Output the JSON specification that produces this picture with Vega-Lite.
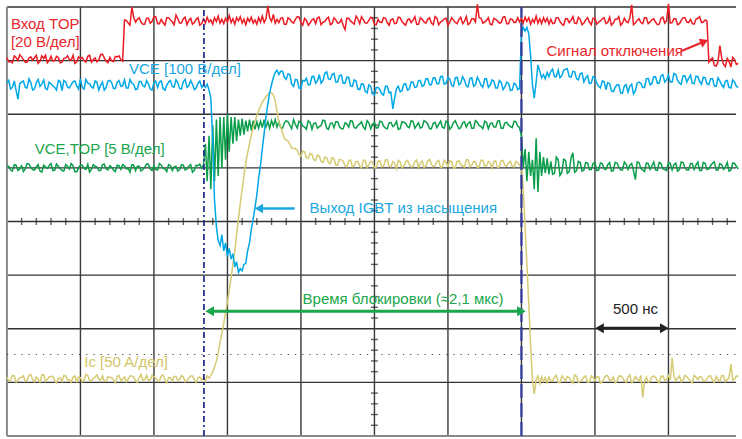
{
"$schema":"https://vega.github.io/schema/vega-lite/v6.json",
"width":742,"height":439,
"autosize":{"type":"fit","contains":"padding"},
"padding":0,
"background":"white",
"config":{"view":{"stroke":null},"font":"Liberation Sans"},
"datasets":{
"scope":[
{"t":0,"in":7.06,"vce":6.58,"top":5.03,"ic":1.10},
{"t":25,"in":6.98,"vce":6.47,"top":4.96,"ic":1.03},
{"t":50,"in":7.09,"vce":6.62,"top":5.06,"ic":1.12},
{"t":75,"in":7.00,"vce":6.28,"top":4.95,"ic":1.04},
{"t":100,"in":7.07,"vce":6.60,"top":5.04,"ic":1.09},
{"t":125,"in":6.97,"vce":6.50,"top":4.98,"ic":1.02},
{"t":150,"in":7.05,"vce":6.66,"top":5.07,"ic":1.13},
{"t":175,"in":7.01,"vce":6.45,"top":4.97,"ic":1.05},
{"t":200,"in":7.10,"vce":6.59,"top":5.02,"ic":1.10},
{"t":225,"in":6.99,"vce":6.52,"top":4.94,"ic":1.00},
{"t":250,"in":7.04,"vce":6.64,"top":5.05,"ic":1.14},
{"t":275,"in":6.96,"vce":6.46,"top":4.99,"ic":1.06},
{"t":300,"in":7.08,"vce":6.57,"top":5.08,"ic":1.11},
{"t":325,"in":7.00,"vce":6.50,"top":4.96,"ic":1.03},
{"t":350,"in":7.06,"vce":6.63,"top":5.03,"ic":1.08},
{"t":375,"in":6.97,"vce":6.44,"top":4.95,"ic":1.02},
{"t":400,"in":7.05,"vce":6.60,"top":5.06,"ic":1.12},
{"t":425,"in":7.02,"vce":6.49,"top":4.98,"ic":1.05},
{"t":450,"in":7.10,"vce":6.61,"top":5.04,"ic":1.10},
{"t":475,"in":6.98,"vce":6.53,"top":4.93,"ic":1.01},
{"t":500,"in":7.04,"vce":6.66,"top":5.05,"ic":1.09},
{"t":525,"in":7.00,"vce":6.47,"top":4.99,"ic":1.04},
{"t":550,"in":7.08,"vce":6.58,"top":5.07,"ic":1.13},
{"t":575,"in":6.97,"vce":6.51,"top":4.97,"ic":1.03},
{"t":600,"in":7.05,"vce":6.62,"top":5.03,"ic":1.10},
{"t":625,"in":7.01,"vce":6.45,"top":4.95,"ic":1.06},
{"t":650,"in":7.12,"vce":6.60,"top":5.06,"ic":1.12},
{"t":675,"in":6.99,"vce":6.50,"top":4.98,"ic":1.02},
{"t":700,"in":7.06,"vce":6.63,"top":5.04,"ic":1.09},
{"t":725,"in":6.98,"vce":6.48,"top":4.96,"ic":1.05},
{"t":750,"in":7.07,"vce":6.60,"top":5.05,"ic":1.11},
{"t":775,"in":7.02,"vce":6.52,"top":4.97,"ic":1.03},
{"t":800,"in":7.76,"vce":6.64,"top":5.04,"ic":1.10},
{"t":825,"in":7.70,"vce":6.49,"top":4.99,"ic":1.06},
{"t":850,"in":8.00,"vce":6.58,"top":5.06,"ic":1.12},
{"t":875,"in":7.72,"vce":6.46,"top":4.95,"ic":1.03},
{"t":900,"in":7.80,"vce":6.61,"top":5.03,"ic":1.09},
{"t":925,"in":7.68,"vce":6.53,"top":4.97,"ic":1.04},
{"t":950,"in":7.79,"vce":6.63,"top":5.07,"ic":1.13},
{"t":975,"in":7.70,"vce":6.47,"top":4.98,"ic":1.05},
{"t":1000,"in":7.82,"vce":6.59,"top":5.04,"ic":1.10},
{"t":1025,"in":7.69,"vce":6.50,"top":4.96,"ic":1.02},
{"t":1050,"in":7.77,"vce":6.62,"top":5.05,"ic":1.12},
{"t":1075,"in":7.66,"vce":6.45,"top":4.98,"ic":1.04},
{"t":1100,"in":7.80,"vce":6.60,"top":5.06,"ic":1.09},
{"t":1125,"in":7.72,"vce":6.52,"top":4.95,"ic":1.03},
{"t":1150,"in":7.85,"vce":6.64,"top":5.03,"ic":1.11},
{"t":1175,"in":7.70,"vce":6.48,"top":4.97,"ic":1.05},
{"t":1200,"in":7.78,"vce":6.61,"top":5.05,"ic":1.10},
{"t":1225,"in":7.67,"vce":6.50,"top":4.98,"ic":1.03},
{"t":1250,"in":7.79,"vce":6.63,"top":5.06,"ic":1.12},
{"t":1275,"in":7.71,"vce":6.46,"top":4.96,"ic":1.05},
{"t":1300,"in":7.80,"vce":6.58,"top":5.04,"ic":1.09},
{"t":1325,"in":7.69,"vce":6.50,"top":4.99,"ic":1.04},
{"t":1337,"in":7.78,"vce":6.55,"top":5.05,"ic":1.10},
{"t":1350,"in":7.70,"vce":6.50,"top":5.45,"ic":1.02},
{"t":1362,"in":7.81,"vce":6.56,"top":4.75,"ic":1.12},
{"t":1375,"in":7.72,"vce":6.45,"top":5.60,"ic":1.08},
{"t":1387,"in":7.76,"vce":6.30,"top":4.60,"ic":1.13},
{"t":1400,"in":7.68,"vce":5.50,"top":5.80,"ic":1.20},
{"t":1412,"in":7.80,"vce":4.40,"top":4.75,"ic":1.28},
{"t":1425,"in":7.73,"vce":3.90,"top":5.90,"ic":1.40},
{"t":1437,"in":7.83,"vce":3.65,"top":4.85,"ic":1.55},
{"t":1450,"in":7.70,"vce":3.55,"top":5.95,"ic":1.75},
{"t":1462,"in":7.77,"vce":3.75,"top":5.00,"ic":1.92},
{"t":1475,"in":7.69,"vce":3.45,"top":5.95,"ic":2.10},
{"t":1487,"in":7.79,"vce":3.60,"top":5.15,"ic":2.30},
{"t":1500,"in":7.72,"vce":3.35,"top":6.00,"ic":2.50},
{"t":1512,"in":7.84,"vce":3.50,"top":5.30,"ic":2.72},
{"t":1525,"in":7.71,"vce":3.30,"top":5.95,"ic":2.95},
{"t":1537,"in":7.78,"vce":3.40,"top":5.45,"ic":3.20},
{"t":1550,"in":7.68,"vce":3.15,"top":5.95,"ic":3.45},
{"t":1562,"in":7.80,"vce":3.25,"top":5.50,"ic":3.75},
{"t":1575,"in":7.74,"vce":3.05,"top":5.90,"ic":4.05},
{"t":1587,"in":7.82,"vce":3.12,"top":5.60,"ic":4.33},
{"t":1600,"in":7.70,"vce":3.08,"top":5.92,"ic":4.60},
{"t":1612,"in":7.77,"vce":3.20,"top":5.62,"ic":4.85},
{"t":1625,"in":7.67,"vce":3.22,"top":5.88,"ic":5.10},
{"t":1637,"in":7.79,"vce":3.45,"top":5.68,"ic":5.28},
{"t":1650,"in":7.73,"vce":3.60,"top":5.90,"ic":5.45},
{"t":1662,"in":7.81,"vce":3.85,"top":5.70,"ic":5.60},
{"t":1675,"in":7.70,"vce":4.05,"top":5.88,"ic":5.75},
{"t":1687,"in":7.76,"vce":4.25,"top":5.72,"ic":5.87},
{"t":1700,"in":7.68,"vce":4.50,"top":5.86,"ic":5.97},
{"t":1712,"in":7.80,"vce":4.80,"top":5.74,"ic":6.07},
{"t":1725,"in":7.72,"vce":5.05,"top":5.87,"ic":6.15},
{"t":1737,"in":7.83,"vce":5.35,"top":5.75,"ic":6.22},
{"t":1750,"in":7.71,"vce":5.65,"top":5.90,"ic":6.28},
{"t":1762,"in":7.78,"vce":5.95,"top":5.76,"ic":6.33},
{"t":1775,"in":8.02,"vce":6.20,"top":5.86,"ic":6.37},
{"t":1787,"in":7.80,"vce":6.40,"top":5.74,"ic":6.40},
{"t":1800,"in":7.73,"vce":6.55,"top":5.88,"ic":6.40},
{"t":1812,"in":7.86,"vce":6.68,"top":5.78,"ic":6.36},
{"t":1825,"in":7.70,"vce":6.78,"top":5.90,"ic":6.25},
{"t":1837,"in":7.77,"vce":6.82,"top":5.76,"ic":6.05},
{"t":1850,"in":7.71,"vce":6.74,"top":5.86,"ic":5.85},
{"t":1875,"in":7.80,"vce":6.80,"top":5.74,"ic":5.65},
{"t":1900,"in":7.68,"vce":6.65,"top":5.88,"ic":5.52},
{"t":1925,"in":7.77,"vce":6.74,"top":5.79,"ic":5.44},
{"t":1950,"in":7.70,"vce":6.52,"top":5.90,"ic":5.36},
{"t":1975,"in":7.82,"vce":6.64,"top":5.74,"ic":5.33},
{"t":2000,"in":7.71,"vce":6.48,"top":5.85,"ic":5.22},
{"t":2025,"in":7.79,"vce":6.62,"top":5.76,"ic":5.30},
{"t":2050,"in":7.66,"vce":6.55,"top":5.88,"ic":5.18},
{"t":2075,"in":7.76,"vce":6.70,"top":5.72,"ic":5.25},
{"t":2100,"in":7.69,"vce":6.58,"top":5.84,"ic":5.14},
{"t":2125,"in":7.81,"vce":6.74,"top":5.77,"ic":5.22},
{"t":2150,"in":7.72,"vce":6.63,"top":5.89,"ic":5.10},
{"t":2175,"in":7.78,"vce":6.79,"top":5.74,"ic":5.19},
{"t":2200,"in":7.67,"vce":6.65,"top":5.83,"ic":5.08},
{"t":2225,"in":7.80,"vce":6.76,"top":5.75,"ic":5.17},
{"t":2250,"in":7.70,"vce":6.60,"top":5.86,"ic":5.05},
{"t":2275,"in":7.77,"vce":6.73,"top":5.73,"ic":5.15},
{"t":2300,"in":7.58,"vce":6.58,"top":5.84,"ic":5.04},
{"t":2325,"in":7.79,"vce":6.69,"top":5.76,"ic":5.13},
{"t":2350,"in":7.71,"vce":6.52,"top":5.87,"ic":5.02},
{"t":2375,"in":7.83,"vce":6.62,"top":5.74,"ic":5.12},
{"t":2400,"in":7.69,"vce":6.46,"top":5.82,"ic":5.03},
{"t":2425,"in":7.76,"vce":6.56,"top":5.76,"ic":5.14},
{"t":2450,"in":7.70,"vce":6.40,"top":5.88,"ic":5.01},
{"t":2475,"in":7.81,"vce":6.52,"top":5.73,"ic":5.12},
{"t":2500,"in":7.68,"vce":6.36,"top":5.85,"ic":5.00},
{"t":2525,"in":7.77,"vce":6.50,"top":5.75,"ic":5.13},
{"t":2550,"in":7.71,"vce":6.38,"top":5.86,"ic":5.02},
{"t":2575,"in":7.79,"vce":6.52,"top":5.74,"ic":5.15},
{"t":2600,"in":7.66,"vce":6.40,"top":5.84,"ic":5.03},
{"t":2625,"in":7.78,"vce":6.10,"top":5.77,"ic":5.12},
{"t":2650,"in":7.70,"vce":6.48,"top":5.87,"ic":4.98},
{"t":2675,"in":7.80,"vce":6.42,"top":5.73,"ic":5.11},
{"t":2700,"in":7.69,"vce":6.56,"top":5.85,"ic":5.04},
{"t":2725,"in":7.76,"vce":6.45,"top":5.77,"ic":5.14},
{"t":2750,"in":7.71,"vce":6.60,"top":5.88,"ic":5.02},
{"t":2775,"in":7.82,"vce":6.50,"top":5.74,"ic":5.12},
{"t":2800,"in":7.68,"vce":6.63,"top":5.84,"ic":5.00},
{"t":2825,"in":7.77,"vce":6.52,"top":5.76,"ic":5.13},
{"t":2850,"in":7.70,"vce":6.66,"top":5.86,"ic":5.03},
{"t":2875,"in":7.80,"vce":6.55,"top":5.73,"ic":5.16},
{"t":2900,"in":7.67,"vce":6.68,"top":5.83,"ic":5.02},
{"t":2925,"in":7.79,"vce":6.57,"top":5.75,"ic":5.12},
{"t":2950,"in":7.72,"vce":6.70,"top":5.87,"ic":5.01},
{"t":2975,"in":7.78,"vce":6.56,"top":5.74,"ic":5.14},
{"t":3000,"in":7.66,"vce":6.69,"top":5.85,"ic":5.03},
{"t":3025,"in":7.80,"vce":6.54,"top":5.76,"ic":5.12},
{"t":3050,"in":7.71,"vce":6.68,"top":5.88,"ic":5.00},
{"t":3075,"in":7.77,"vce":6.55,"top":5.73,"ic":5.13},
{"t":3100,"in":7.69,"vce":6.70,"top":5.84,"ic":5.04},
{"t":3125,"in":7.82,"vce":6.53,"top":5.76,"ic":5.15},
{"t":3150,"in":7.70,"vce":6.67,"top":5.86,"ic":5.02},
{"t":3175,"in":7.78,"vce":6.52,"top":5.74,"ic":5.12},
{"t":3200,"in":8.05,"vce":6.69,"top":5.85,"ic":5.01},
{"t":3225,"in":7.79,"vce":6.54,"top":5.77,"ic":5.14},
{"t":3250,"in":7.72,"vce":6.66,"top":5.87,"ic":5.03},
{"t":3275,"in":7.80,"vce":6.50,"top":5.73,"ic":5.12},
{"t":3300,"in":7.67,"vce":6.64,"top":5.84,"ic":5.00},
{"t":3325,"in":7.77,"vce":6.49,"top":5.76,"ic":5.13},
{"t":3350,"in":7.70,"vce":6.63,"top":5.88,"ic":5.02},
{"t":3375,"in":7.81,"vce":6.46,"top":5.74,"ic":5.14},
{"t":3400,"in":7.69,"vce":6.60,"top":5.85,"ic":5.03},
{"t":3425,"in":7.78,"vce":6.44,"top":5.77,"ic":5.12},
{"t":3450,"in":7.71,"vce":6.58,"top":5.87,"ic":5.02},
{"t":3475,"in":7.80,"vce":6.46,"top":5.78,"ic":5.10},
{"t":3487,"in":7.72,"vce":6.48,"top":5.75,"ic":5.05},
{"t":3500,"in":7.79,"vce":7.50,"top":5.60,"ic":5.08},
{"t":3512,"in":7.70,"vce":7.62,"top":5.00,"ic":4.60},
{"t":3525,"in":7.81,"vce":7.55,"top":5.35,"ic":3.90},
{"t":3537,"in":7.73,"vce":7.62,"top":4.75,"ic":3.20},
{"t":3550,"in":7.80,"vce":7.50,"top":5.30,"ic":2.45},
{"t":3562,"in":7.68,"vce":7.10,"top":4.85,"ic":1.70},
{"t":3575,"in":7.77,"vce":6.55,"top":5.15,"ic":1.05},
{"t":3587,"in":7.71,"vce":6.30,"top":4.60,"ic":0.78},
{"t":3600,"in":7.83,"vce":6.60,"top":5.55,"ic":1.05},
{"t":3612,"in":7.70,"vce":6.92,"top":4.55,"ic":1.12},
{"t":3625,"in":7.78,"vce":6.80,"top":5.30,"ic":0.98},
{"t":3637,"in":7.69,"vce":6.68,"top":4.85,"ic":1.10},
{"t":3650,"in":7.80,"vce":6.74,"top":5.20,"ic":1.02},
{"t":3662,"in":7.72,"vce":6.66,"top":4.90,"ic":1.09},
{"t":3675,"in":7.79,"vce":6.78,"top":5.18,"ic":0.99},
{"t":3687,"in":7.68,"vce":6.70,"top":4.88,"ic":1.10},
{"t":3700,"in":7.77,"vce":6.80,"top":5.12,"ic":1.03},
{"t":3725,"in":7.70,"vce":6.70,"top":4.90,"ic":1.10},
{"t":3750,"in":7.80,"vce":6.82,"top":5.15,"ic":1.00},
{"t":3775,"in":7.68,"vce":6.72,"top":4.92,"ic":1.12},
{"t":3800,"in":7.78,"vce":6.84,"top":5.14,"ic":1.03},
{"t":3825,"in":7.71,"vce":6.70,"top":4.93,"ic":1.09},
{"t":3850,"in":7.82,"vce":6.80,"top":5.28,"ic":0.98},
{"t":3875,"in":7.69,"vce":6.66,"top":4.95,"ic":1.11},
{"t":3900,"in":7.77,"vce":6.76,"top":5.10,"ic":1.02},
{"t":3925,"in":7.70,"vce":6.60,"top":4.96,"ic":1.10},
{"t":3950,"in":7.80,"vce":6.72,"top":5.09,"ic":1.00},
{"t":3975,"in":7.67,"vce":6.58,"top":4.97,"ic":1.12},
{"t":4000,"in":7.79,"vce":6.68,"top":5.10,"ic":1.03},
{"t":4025,"in":7.72,"vce":6.52,"top":4.96,"ic":1.11},
{"t":4050,"in":7.78,"vce":6.62,"top":5.08,"ic":1.01},
{"t":4075,"in":7.69,"vce":6.46,"top":4.97,"ic":1.13},
{"t":4100,"in":7.81,"vce":6.57,"top":5.10,"ic":1.04},
{"t":4125,"in":7.70,"vce":6.42,"top":4.95,"ic":1.10},
{"t":4150,"in":7.77,"vce":6.55,"top":5.09,"ic":1.02},
{"t":4175,"in":7.66,"vce":6.40,"top":4.96,"ic":1.12},
{"t":4200,"in":7.79,"vce":6.53,"top":5.11,"ic":1.03},
{"t":4225,"in":7.71,"vce":6.41,"top":4.97,"ic":1.10},
{"t":4250,"in":8.04,"vce":6.56,"top":5.08,"ic":0.99},
{"t":4275,"in":7.70,"vce":6.44,"top":4.78,"ic":1.11},
{"t":4300,"in":7.78,"vce":6.60,"top":5.10,"ic":1.03},
{"t":4325,"in":7.69,"vce":6.50,"top":4.96,"ic":0.72},
{"t":4350,"in":7.80,"vce":6.66,"top":5.09,"ic":1.10},
{"t":4375,"in":7.72,"vce":6.55,"top":4.97,"ic":1.02},
{"t":4400,"in":7.78,"vce":6.70,"top":5.11,"ic":1.12},
{"t":4425,"in":7.67,"vce":6.58,"top":4.95,"ic":1.03},
{"t":4450,"in":7.79,"vce":6.72,"top":5.08,"ic":1.11},
{"t":4475,"in":7.70,"vce":6.60,"top":4.97,"ic":1.04},
{"t":4500,"in":8.06,"vce":6.73,"top":5.10,"ic":1.13},
{"t":4525,"in":7.71,"vce":6.60,"top":4.96,"ic":1.46},
{"t":4550,"in":7.78,"vce":6.74,"top":5.09,"ic":1.03},
{"t":4575,"in":7.69,"vce":6.58,"top":4.97,"ic":1.12},
{"t":4600,"in":7.80,"vce":6.72,"top":5.10,"ic":1.04},
{"t":4625,"in":7.72,"vce":6.60,"top":4.96,"ic":1.11},
{"t":4650,"in":7.77,"vce":6.73,"top":5.08,"ic":1.02},
{"t":4675,"in":7.68,"vce":6.57,"top":4.97,"ic":1.13},
{"t":4700,"in":7.79,"vce":6.70,"top":5.11,"ic":1.05},
{"t":4725,"in":7.71,"vce":6.56,"top":4.95,"ic":1.10},
{"t":4750,"in":7.76,"vce":6.68,"top":5.08,"ic":1.03},
{"t":4775,"in":6.97,"vce":6.55,"top":4.98,"ic":1.12},
{"t":4800,"in":7.05,"vce":6.66,"top":5.09,"ic":1.04},
{"t":4825,"in":6.90,"vce":6.52,"top":4.96,"ic":1.11},
{"t":4850,"in":7.28,"vce":6.62,"top":5.08,"ic":1.02},
{"t":4875,"in":6.93,"vce":6.50,"top":4.97,"ic":1.12},
{"t":4900,"in":7.04,"vce":6.63,"top":5.10,"ic":1.05},
{"t":4925,"in":6.88,"vce":6.49,"top":4.96,"ic":1.34},
{"t":4950,"in":7.02,"vce":6.60,"top":5.08,"ic":1.06},
{"t":4975,"in":6.95,"vce":6.50,"top":4.98,"ic":1.11},
{"t":12,"in":6.98,"vce":6.63,"top":5.03,"ic":1.03},
{"t":37,"in":6.96,"vce":6.50,"top":4.94,"ic":1.13},
{"t":62,"in":7.06,"vce":6.45,"top":5.05,"ic":1.00},
{"t":87,"in":7.11,"vce":6.57,"top":4.98,"ic":1.09},
{"t":112,"in":7.02,"vce":6.62,"top":4.93,"ic":1.12},
{"t":137,"in":6.97,"vce":6.49,"top":5.08,"ic":1.04},
{"t":162,"in":7.07,"vce":6.59,"top":5.01,"ic":1.15},
{"t":187,"in":7.05,"vce":6.47,"top":4.96,"ic":1.01},
{"t":212,"in":6.95,"vce":6.65,"top":5.06,"ic":1.06},
{"t":237,"in":7.09,"vce":6.56,"top":4.92,"ic":1.14},
{"t":262,"in":7.10,"vce":6.48,"top":5.02,"ic":1.02},
{"t":287,"in":7.00,"vce":6.60,"top":5.04,"ic":1.10},
{"t":312,"in":6.99,"vce":6.53,"top":4.95,"ic":1.11},
{"t":337,"in":7.08,"vce":6.45,"top":5.07,"ic":0.99},
{"t":362,"in":6.96,"vce":6.61,"top":4.99,"ic":1.08},
{"t":387,"in":7.04,"vce":6.63,"top":4.94,"ic":1.13},
{"t":412,"in":7.09,"vce":6.51,"top":5.03,"ic":1.05},
{"t":437,"in":7.01,"vce":6.55,"top":5.08,"ic":1.00},
{"t":462,"in":6.95,"vce":6.62,"top":4.93,"ic":1.12},
{"t":487,"in":7.07,"vce":6.47,"top":5.00,"ic":1.10},
{"t":512,"in":7.06,"vce":6.50,"top":5.05,"ic":1.01},
{"t":537,"in":6.97,"vce":6.65,"top":4.97,"ic":1.15},
{"t":562,"in":7.10,"vce":6.57,"top":4.92,"ic":1.03},
{"t":587,"in":7.02,"vce":6.49,"top":5.06,"ic":1.07},
{"t":612,"in":6.98,"vce":6.60,"top":5.02,"ic":1.14},
{"t":637,"in":7.11,"vce":6.54,"top":4.95,"ic":1.04},
{"t":662,"in":7.05,"vce":6.45,"top":5.07,"ic":1.02},
{"t":687,"in":6.96,"vce":6.62,"top":4.96,"ic":1.11},
{"t":712,"in":7.00,"vce":6.59,"top":5.01,"ic":1.09},
{"t":737,"in":7.08,"vce":6.48,"top":4.93,"ic":0.99},
{"t":762,"in":7.09,"vce":6.63,"top":5.04,"ic":1.13},
{"t":787,"in":6.99,"vce":6.53,"top":5.06,"ic":1.06},
{"t":812,"in":7.75,"vce":6.49,"top":4.98,"ic":1.01},
{"t":837,"in":7.66,"vce":6.65,"top":4.92,"ic":1.12},
{"t":862,"in":7.81,"vce":6.56,"top":5.05,"ic":1.10},
{"t":887,"in":7.77,"vce":6.47,"top":5.03,"ic":1.00},
{"t":912,"in":7.72,"vce":6.61,"top":4.94,"ic":1.15},
{"t":937,"in":7.68,"vce":6.51,"top":5.01,"ic":1.05},
{"t":962,"in":7.79,"vce":6.57,"top":5.07,"ic":1.03},
{"t":987,"in":7.73,"vce":6.45,"top":4.95,"ic":1.13},
{"t":1012,"in":7.82,"vce":6.62,"top":4.97,"ic":1.08},
{"t":1037,"in":7.69,"vce":6.60,"top":5.08,"ic":1.02},
{"t":1062,"in":7.71,"vce":6.48,"top":4.99,"ic":1.14},
{"t":1087,"in":7.80,"vce":6.54,"top":4.93,"ic":0.99},
{"t":1112,"in":7.76,"vce":6.63,"top":5.04,"ic":1.09},
{"t":1137,"in":7.67,"vce":6.50,"top":5.02,"ic":1.11},
{"t":1162,"in":7.78,"vce":6.59,"top":4.94,"ic":1.04},
{"t":1187,"in":7.70,"vce":6.47,"top":5.06,"ic":1.13},
{"t":1212,"in":7.81,"vce":6.65,"top":4.96,"ic":1.01},
{"t":1237,"in":7.75,"vce":6.53,"top":5.03,"ic":1.08},
{"t":1262,"in":7.68,"vce":6.56,"top":4.92,"ic":1.12},
{"t":1287,"in":7.77,"vce":6.49,"top":5.05,"ic":1.00},
{"t":1312,"in":7.66,"vce":6.62,"top":5.07,"ic":1.10},
{"t":1862,"in":7.79,"vce":6.80,"top":5.75,"ic":5.78},
{"t":1887,"in":7.68,"vce":6.69,"top":5.84,"ic":5.55},
{"t":1912,"in":7.80,"vce":6.75,"top":5.86,"ic":5.50},
{"t":1937,"in":7.72,"vce":6.56,"top":5.73,"ic":5.37},
{"t":1962,"in":7.77,"vce":6.65,"top":5.81,"ic":5.36},
{"t":1987,"in":7.81,"vce":6.49,"top":5.87,"ic":5.25},
{"t":2012,"in":7.66,"vce":6.63,"top":5.78,"ic":5.31},
{"t":2037,"in":7.75,"vce":6.67,"top":5.72,"ic":5.19},
{"t":2062,"in":7.70,"vce":6.55,"top":5.85,"ic":5.27},
{"t":2087,"in":7.78,"vce":6.71,"top":5.83,"ic":5.15},
{"t":2112,"in":7.80,"vce":6.62,"top":5.74,"ic":5.24},
{"t":2137,"in":7.67,"vce":6.58,"top":5.79,"ic":5.12},
{"t":2162,"in":7.73,"vce":6.76,"top":5.88,"ic":5.20},
{"t":2187,"in":7.81,"vce":6.66,"top":5.72,"ic":5.10},
{"t":2212,"in":7.69,"vce":6.74,"top":5.84,"ic":5.19},
{"t":2237,"in":7.76,"vce":6.60,"top":5.86,"ic":5.05},
{"t":2262,"in":7.71,"vce":6.72,"top":5.77,"ic":5.16},
{"t":2287,"in":7.66,"vce":6.58,"top":5.73,"ic":5.13},
{"t":2312,"in":7.79,"vce":6.69,"top":5.82,"ic":5.02},
{"t":2337,"in":7.74,"vce":6.53,"top":5.88,"ic":5.15},
{"t":2362,"in":7.68,"vce":6.64,"top":5.75,"ic":5.04},
{"t":2387,"in":7.78,"vce":6.47,"top":5.79,"ic":5.12},
{"t":2412,"in":7.82,"vce":6.57,"top":5.86,"ic":5.00},
{"t":2437,"in":7.70,"vce":6.43,"top":5.72,"ic":5.14},
{"t":2462,"in":7.75,"vce":6.55,"top":5.84,"ic":5.06},
{"t":2487,"in":7.79,"vce":6.38,"top":5.81,"ic":5.10},
{"t":2512,"in":7.67,"vce":6.50,"top":5.74,"ic":5.01},
{"t":2537,"in":7.72,"vce":6.46,"top":5.87,"ic":5.13},
{"t":2562,"in":7.80,"vce":6.36,"top":5.78,"ic":5.03},
{"t":2587,"in":7.71,"vce":6.52,"top":5.73,"ic":5.15},
{"t":2612,"in":7.76,"vce":6.41,"top":5.85,"ic":5.02},
{"t":2637,"in":7.69,"vce":6.30,"top":5.80,"ic":5.09},
{"t":2662,"in":7.81,"vce":6.52,"top":5.72,"ic":5.14},
{"t":2687,"in":7.73,"vce":6.44,"top":5.86,"ic":5.00},
{"t":2712,"in":7.66,"vce":6.57,"top":5.83,"ic":5.12},
{"t":2737,"in":7.78,"vce":6.47,"top":5.75,"ic":5.06},
{"t":2762,"in":7.75,"vce":6.60,"top":5.87,"ic":5.02},
{"t":2787,"in":7.68,"vce":6.51,"top":5.79,"ic":5.15},
{"t":2812,"in":7.80,"vce":6.63,"top":5.74,"ic":5.09},
{"t":2837,"in":7.72,"vce":6.54,"top":5.88,"ic":5.01},
{"t":2862,"in":7.77,"vce":6.66,"top":5.82,"ic":5.13},
{"t":2887,"in":7.70,"vce":6.55,"top":5.73,"ic":5.07},
{"t":2912,"in":7.82,"vce":6.68,"top":5.85,"ic":5.04},
{"t":2937,"in":7.67,"vce":6.57,"top":5.81,"ic":5.14},
{"t":2962,"in":7.74,"vce":6.71,"top":5.76,"ic":5.02},
{"t":2987,"in":7.79,"vce":6.58,"top":5.87,"ic":5.10},
{"t":3012,"in":7.71,"vce":6.66,"top":5.72,"ic":5.13},
{"t":3037,"in":7.76,"vce":6.52,"top":5.84,"ic":5.00},
{"t":3062,"in":7.69,"vce":6.69,"top":5.80,"ic":5.12},
{"t":3087,"in":7.81,"vce":6.58,"top":5.75,"ic":5.06},
{"t":3112,"in":7.73,"vce":6.64,"top":5.86,"ic":5.01},
{"t":3137,"in":7.67,"vce":6.51,"top":5.83,"ic":5.15},
{"t":3162,"in":7.78,"vce":6.68,"top":5.74,"ic":5.05},
{"t":3187,"in":7.72,"vce":6.55,"top":5.88,"ic":5.11},
{"t":3212,"in":7.80,"vce":6.63,"top":5.79,"ic":5.02},
{"t":3237,"in":7.70,"vce":6.50,"top":5.73,"ic":5.14},
{"t":3262,"in":7.75,"vce":6.66,"top":5.85,"ic":5.04},
{"t":3287,"in":7.68,"vce":6.54,"top":5.82,"ic":5.09},
{"t":3312,"in":7.79,"vce":6.62,"top":5.76,"ic":5.12},
{"t":3337,"in":7.74,"vce":6.49,"top":5.87,"ic":5.01},
{"t":3362,"in":7.71,"vce":6.60,"top":5.74,"ic":5.13},
{"t":3387,"in":7.82,"vce":6.51,"top":5.84,"ic":5.05},
{"t":3412,"in":7.69,"vce":6.58,"top":5.80,"ic":5.10},
{"t":3437,"in":7.77,"vce":6.45,"top":5.75,"ic":5.03},
{"t":3462,"in":7.72,"vce":6.55,"top":5.86,"ic":5.12},
{"t":3712,"in":7.69,"vce":6.84,"top":4.88,"ic":1.02},
{"t":3737,"in":7.80,"vce":6.70,"top":5.20,"ic":1.13},
{"t":3762,"in":7.73,"vce":6.68,"top":4.86,"ic":0.99},
{"t":3787,"in":7.66,"vce":6.82,"top":5.16,"ic":1.08},
{"t":3812,"in":7.78,"vce":6.85,"top":4.90,"ic":1.11},
{"t":3837,"in":7.75,"vce":6.69,"top":5.18,"ic":1.03},
{"t":3862,"in":7.70,"vce":6.79,"top":4.92,"ic":1.14},
{"t":3887,"in":7.81,"vce":6.64,"top":5.12,"ic":1.00},
{"t":3912,"in":7.67,"vce":6.77,"top":4.94,"ic":1.05},
{"t":3937,"in":7.76,"vce":6.68,"top":5.10,"ic":1.12},
{"t":3962,"in":7.72,"vce":6.57,"top":4.97,"ic":1.01},
{"t":3987,"in":7.79,"vce":6.70,"top":5.08,"ic":1.09},
{"t":4012,"in":7.68,"vce":6.58,"top":4.95,"ic":1.10},
{"t":4037,"in":7.74,"vce":6.49,"top":5.09,"ic":0.98},
{"t":4062,"in":7.80,"vce":6.61,"top":4.98,"ic":1.07},
{"t":4087,"in":7.71,"vce":6.59,"top":5.06,"ic":1.12},
{"t":4112,"in":7.66,"vce":6.44,"top":4.94,"ic":1.04},
{"t":4137,"in":7.77,"vce":6.50,"top":5.10,"ic":0.99},
{"t":4162,"in":7.82,"vce":6.55,"top":5.02,"ic":1.11},
{"t":4187,"in":7.70,"vce":6.39,"top":4.96,"ic":1.09},
{"t":4212,"in":7.73,"vce":6.55,"top":5.07,"ic":1.00},
{"t":4237,"in":7.79,"vce":6.52,"top":5.05,"ic":1.14},
{"t":4262,"in":7.67,"vce":6.38,"top":4.95,"ic":1.03},
{"t":4287,"in":7.75,"vce":6.58,"top":5.11,"ic":1.06},
{"t":4312,"in":7.71,"vce":6.58,"top":4.99,"ic":1.13},
{"t":4337,"in":7.80,"vce":6.50,"top":4.93,"ic":1.02},
{"t":4362,"in":7.69,"vce":6.67,"top":5.08,"ic":1.00},
{"t":4387,"in":7.76,"vce":6.57,"top":5.04,"ic":1.10},
{"t":4412,"in":7.72,"vce":6.70,"top":4.96,"ic":1.09},
{"t":4437,"in":7.68,"vce":6.58,"top":5.10,"ic":0.99},
{"t":4462,"in":7.81,"vce":6.74,"top":4.98,"ic":1.12},
{"t":4487,"in":7.74,"vce":6.64,"top":4.95,"ic":1.05},
{"t":4512,"in":7.70,"vce":6.60,"top":5.09,"ic":1.04},
{"t":4537,"in":7.78,"vce":6.76,"top":5.06,"ic":1.12},
{"t":4562,"in":7.67,"vce":6.63,"top":4.94,"ic":1.08},
{"t":4587,"in":7.75,"vce":6.56,"top":5.11,"ic":1.01},
{"t":4612,"in":7.80,"vce":6.72,"top":5.00,"ic":1.13},
{"t":4637,"in":7.71,"vce":6.67,"top":4.96,"ic":1.06},
{"t":4662,"in":7.69,"vce":6.58,"top":5.08,"ic":0.99},
{"t":4687,"in":7.77,"vce":6.71,"top":5.05,"ic":1.10},
{"t":4712,"in":7.82,"vce":6.61,"top":4.95,"ic":1.11},
{"t":4737,"in":7.72,"vce":6.69,"top":5.10,"ic":1.02},
{"t":4762,"in":7.74,"vce":6.57,"top":4.97,"ic":1.07},
{"t":4787,"in":7.02,"vce":6.66,"top":5.04,"ic":1.12},
{"t":4812,"in":6.91,"vce":6.53,"top":5.11,"ic":1.00},
{"t":4837,"in":6.98,"vce":6.68,"top":4.96,"ic":1.05},
{"t":4862,"in":7.05,"vce":6.55,"top":5.06,"ic":1.13},
{"t":4887,"in":6.89,"vce":6.62,"top":5.02,"ic":1.01},
{"t":4912,"in":6.99,"vce":6.50,"top":4.94,"ic":1.09},
{"t":4937,"in":7.06,"vce":6.64,"top":5.09,"ic":1.04},
{"t":4962,"in":6.93,"vce":6.52,"top":5.03,"ic":1.12}
],
"vgrid":[{"t":500,"v":0,"v2":8},{"t":1000,"v":0,"v2":8},{"t":1500,"v":0,"v2":8},{"t":2000,"v":0,"v2":8},{"t":2500,"v":0,"v2":8},{"t":3000,"v":0,"v2":8},{"t":3500,"v":0,"v2":8},{"t":4000,"v":0,"v2":8},{"t":4500,"v":0,"v2":8}],
"hgrid":[{"v":1,"t":0,"t2":4960},{"v":2,"t":0,"t2":4960},{"v":3,"t":0,"t2":4960},{"v":4,"t":0,"t2":4960},{"v":5,"t":0,"t2":4960},{"v":6,"t":0,"t2":4960},{"v":7,"t":0,"t2":4960},{"v":8,"t":0,"t2":4960}],
"hticks":[{"t":100,"v":4},{"t":200,"v":4},{"t":300,"v":4},{"t":400,"v":4},{"t":600,"v":4},{"t":700,"v":4},{"t":800,"v":4},{"t":900,"v":4},{"t":1100,"v":4},{"t":1200,"v":4},{"t":1300,"v":4},{"t":1400,"v":4},{"t":1600,"v":4},{"t":1700,"v":4},{"t":1800,"v":4},{"t":1900,"v":4},{"t":2100,"v":4},{"t":2200,"v":4},{"t":2300,"v":4},{"t":2400,"v":4},{"t":2600,"v":4},{"t":2700,"v":4},{"t":2800,"v":4},{"t":2900,"v":4},{"t":3100,"v":4},{"t":3200,"v":4},{"t":3300,"v":4},{"t":3400,"v":4},{"t":3600,"v":4},{"t":3700,"v":4},{"t":3800,"v":4},{"t":3900,"v":4},{"t":4100,"v":4},{"t":4200,"v":4},{"t":4300,"v":4},{"t":4400,"v":4},{"t":4600,"v":4},{"t":4700,"v":4},{"t":4800,"v":4},{"t":4900,"v":4}],
"vticks":[{"t":2500,"v":0.2},{"t":2500,"v":0.4},{"t":2500,"v":0.6},{"t":2500,"v":0.8},{"t":2500,"v":1.2},{"t":2500,"v":1.4},{"t":2500,"v":1.6},{"t":2500,"v":1.8},{"t":2500,"v":2.2},{"t":2500,"v":2.4},{"t":2500,"v":2.6},{"t":2500,"v":2.8},{"t":2500,"v":3.2},{"t":2500,"v":3.4},{"t":2500,"v":3.6},{"t":2500,"v":3.8},{"t":2500,"v":4.2},{"t":2500,"v":4.4},{"t":2500,"v":4.6},{"t":2500,"v":4.8},{"t":2500,"v":5.2},{"t":2500,"v":5.4},{"t":2500,"v":5.6},{"t":2500,"v":5.8},{"t":2500,"v":6.2},{"t":2500,"v":6.4},{"t":2500,"v":6.6},{"t":2500,"v":6.8},{"t":2500,"v":7.2},{"t":2500,"v":7.4},{"t":2500,"v":7.6},{"t":2500,"v":7.8}],
"labels":[
{"t":27,"v":7.59,"txt":"Вход TOP","c":"in"},
{"t":27,"v":7.26,"txt":"[20 В/дел]","c":"in"},
{"t":830,"v":6.75,"txt":"VCE [100 В/дел]","c":"vce"},
{"t":189,"v":5.25,"txt":"VCE,TOP [5 В/дел]","c":"top"},
{"t":2058,"v":4.15,"txt":"Выход IGBT из насыщения","c":"vce"},
{"t":2011,"v":2.47,"txt":"Время блокировки (≈2,1 мкс)","c":"top"},
{"t":4123,"v":2.27,"txt":"500 нс","c":"scale"},
{"t":526,"v":1.28,"txt":"Ic [50 A/дел]","c":"ic"},
{"t":3670,"v":7.09,"txt":"Сигнал отключения","c":"in"}
]
},
"encoding":{
"x":{"field":"t","type":"quantitative","scale":{"domain":[-47.2,4959.5],"nice":false,"zero":false},"axis":null},
"y":{"field":"v","type":"quantitative","scale":{"domain":[-0.056,8.112],"nice":false,"zero":false},"axis":null}
},
"layer":[
{"data":{"name":"hgrid"},"mark":{"type":"rule","color":"#333333","strokeWidth":1.3},
 "encoding":{"x2":{"field":"t2"}}},
{"data":{"name":"vgrid"},"mark":{"type":"rule","color":"#3a3a3a","strokeWidth":1.4},
 "encoding":{"y2":{"field":"v2"}}},
{"data":{"values":[{"t":0,"v":0,"v2":8}]},"mark":{"type":"rule","color":"#8a8a8a","strokeWidth":2},
 "encoding":{"y2":{"field":"v2"}}},
{"data":{"values":[{"v":0,"t":0,"t2":4960}]},"mark":{"type":"rule","color":"#8a8a8a","strokeWidth":2},
 "encoding":{"x2":{"field":"t2"}}},
{"data":{"values":[{"v":1.52,"t":0,"t2":4960}]},"mark":{"type":"rule","color":"#444444","strokeWidth":1.2,"strokeDash":[1.2,6]},
 "encoding":{"x2":{"field":"t2"}}},
{"data":{"name":"hticks"},"mark":{"type":"tick","orient":"vertical","size":7,"thickness":1.4,"color":"#222222"}},
{"data":{"name":"vticks"},"mark":{"type":"tick","orient":"horizontal","size":7,"thickness":1.4,"color":"#222222"}},
{"data":{"name":"scope"},"mark":{"type":"line","color":"#0a9e4a","strokeWidth":1.5},
 "encoding":{"y":{"field":"top","type":"quantitative","scale":{"domain":[-0.056,8.112],"nice":false,"zero":false},"axis":null}}},
{"data":{"name":"scope"},"mark":{"type":"line","color":"#d6ca72","strokeWidth":1.5},
 "encoding":{"y":{"field":"ic","type":"quantitative","scale":{"domain":[-0.056,8.112],"nice":false,"zero":false},"axis":null}}},
{"data":{"name":"scope"},"mark":{"type":"line","color":"#00a8e6","strokeWidth":1.5},
 "encoding":{"y":{"field":"vce","type":"quantitative","scale":{"domain":[-0.056,8.112],"nice":false,"zero":false},"axis":null}}},
{"data":{"name":"scope"},"mark":{"type":"line","color":"#ec1c24","strokeWidth":1.5},
 "encoding":{"y":{"field":"in","type":"quantitative","scale":{"domain":[-0.056,8.112],"nice":false,"zero":false},"axis":null}}},
{"data":{"values":[{"t":1340,"v":0,"v2":8}]},"mark":{"type":"rule","color":"#2b2f8f","strokeWidth":1.8,"strokeDash":[6,3,2,3]},
 "encoding":{"y2":{"field":"v2"}}},
{"data":{"values":[{"t":3500,"v":0,"v2":8}]},"mark":{"type":"rule","color":"#353a9e","strokeWidth":2.2,"strokeDash":[14,5]},
 "encoding":{"y2":{"field":"v2"}}},
{"data":{"values":[{"t":1379,"t2":3500,"v":2.326}]},"mark":{"type":"rule","color":"#1aa64b","strokeWidth":2.8},
 "encoding":{"x2":{"field":"t2"}}},
{"data":{"values":[{"t":1379,"v":2.326}]},"mark":{"type":"point","shape":"triangle-left","size":100,"filled":true,"opacity":1,"color":"#1aa64b"}},
{"data":{"values":[{"t":3500,"v":2.326}]},"mark":{"type":"point","shape":"triangle-right","size":100,"filled":true,"opacity":1,"color":"#1aa64b"}},
{"data":{"values":[{"t":4031,"t2":4472,"v":2.009}]},"mark":{"type":"rule","color":"#222222","strokeWidth":3},
 "encoding":{"x2":{"field":"t2"}}},
{"data":{"values":[{"t":4031,"v":2.009}]},"mark":{"type":"point","shape":"triangle-left","size":100,"filled":true,"opacity":1,"color":"#222222"}},
{"data":{"values":[{"t":4472,"v":2.009}]},"mark":{"type":"point","shape":"triangle-right","size":100,"filled":true,"opacity":1,"color":"#222222"}},
{"data":{"values":[{"t":1714,"t2":1957,"v":4.242}]},"mark":{"type":"rule","color":"#1aa7e0","strokeWidth":2.5},
 "encoding":{"x2":{"field":"t2"}}},
{"data":{"values":[{"t":1714,"v":4.242}]},"mark":{"type":"point","shape":"triangle-left","size":90,"filled":true,"opacity":1,"color":"#1aa7e0"}},
{"data":{"values":[{"t":4588,"v":7.181,"t2":4744,"v2":7.356}]},"mark":{"type":"rule","color":"#e8262c","strokeWidth":2.2},
 "encoding":{"x2":{"field":"t2"},"y2":{"field":"v2"}}},
{"data":{"values":[{"t":4744,"v":7.356}]},"mark":{"type":"point","shape":"triangle-right","size":90,"filled":true,"opacity":1,"color":"#e8262c","angle":-22}},
{"data":{"name":"labels"},"mark":{"type":"text","align":"left","baseline":"alphabetic","fontSize":15,"font":"Liberation Sans"},
 "encoding":{"text":{"field":"txt"},
  "color":{"field":"c","type":"nominal","legend":null,"scale":{"domain":["in","vce","top","ic","scale"],"range":["#e8262c","#1aa7e0","#1aa64b","#d4c66a","#222222"]}}}}
]
}
